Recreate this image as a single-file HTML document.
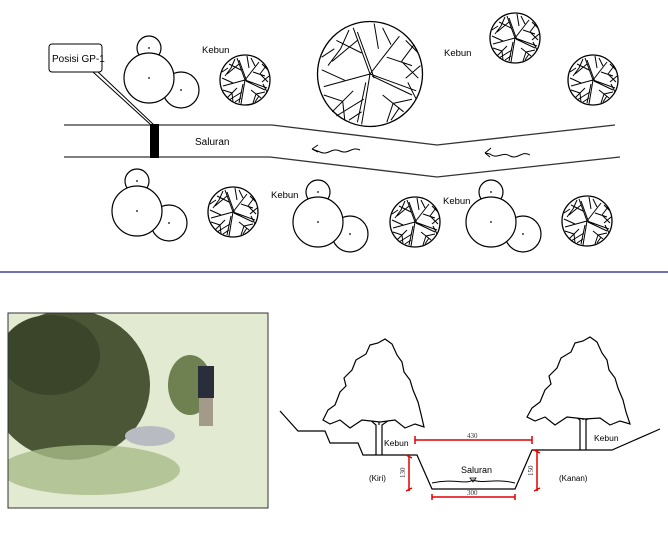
<!DOCTYPE html>
<html><head><meta charset="utf-8"><style>
html,body{margin:0;padding:0;background:#fff;}
svg{display:block;font-family:"Liberation Sans",sans-serif;}
</style></head><body>
<svg width="668" height="560" viewBox="0 0 668 560" xmlns="http://www.w3.org/2000/svg">
<defs>
<clipPath id="pc"><rect x="8" y="313" width="260" height="195"/></clipPath>
<g id="dt"><circle r="25" fill="#fff" stroke="#000" stroke-width="1.3" vector-effect="non-scaling-stroke"/>
<path vector-effect="non-scaling-stroke" d="M0,0 L-8,-22 M0,0 L14,-18 M0,0 L22,8 M0,0 L-4,24 M0,0 L-22,6 M-4,-10 L-16,-16 M8,-8 L20,-4 M6,10 L16,18 M-8,8 L-18,18 M-6,-16 L-18,-6 M10,-14 L6,-22 M2,2 L-6,-20 M1,1 L20,10 M-2,4 L-6,23 M-14,-12 L-20,-4 M-14,-12 L-10,-21 M15,-6 L21,-14 M15,-6 L23,2 M11,14 L20,12 M11,14 L8,23 M-13,13 L-22,10 M-13,13 L-12,22 M-12,3 L-23,-2 M4,-12 L2,-24 M-3,12 L-16,20 M17,2 L24,-4" stroke="#000" stroke-width="1" fill="none"/>
<path vector-effect="non-scaling-stroke" d="M-23,-8 L-17,-12 M17,-16 L23,-10 M-10,22 L-4,18 M10,22 L14,16 M22,12 L18,4" stroke="#000" stroke-width="1"/></g>
<g id="ct"><circle cx="0" cy="-30" r="12" fill="#fff" stroke="#000" stroke-width="1.2"/>
<circle cx="32" cy="12" r="18" fill="#fff" stroke="#000" stroke-width="1.2"/>
<circle cx="0" cy="0" r="25" fill="#fff" stroke="#000" stroke-width="1.2"/>
<circle cx="0" cy="0" r="0.9"/><circle cx="32" cy="12" r="0.9"/><circle cx="0" cy="-30" r="0.9"/></g>
</defs>

<path d="M64,125 L272,125 L437,145 L615,125 M64,157 L270,157 L437,177 L620,157" stroke="#333" stroke-width="1.3" fill="none"/>
<rect x="150" y="124" width="9" height="34" fill="#000"/>
<path d="M93,72 L150,124 M98,72 L153,124" stroke="#000" stroke-width="1"/>
<rect x="49" y="44" width="53" height="28" rx="3" fill="#fff" stroke="#000" stroke-width="1"/>
<text x="52" y="62" font-size="10">Posisi GP-1</text>
<text x="195" y="145" font-size="10">Saluran</text>
<text x="202" y="53" font-size="9.5">Kebun</text>
<text x="444" y="56" font-size="9.5">Kebun</text>
<text x="271" y="198" font-size="9.5">Kebun</text>
<text x="443" y="204" font-size="9.5">Kebun</text>
<path d="M360,150 C352,146 348,155 340,151 C332,147 328,156 320,152 L312,149 M312,149 l6,-4 M312,149 l6,3" stroke="#000" fill="none" stroke-width="1"/>
<path d="M530,155 C522,150 518,160 510,156 C502,151 498,160 490,154 L485,153 M485,153 l6,-5 M485,153 l5,4" stroke="#000" fill="none" stroke-width="1"/>

<use href="#ct" x="149" y="78"/>
<use href="#ct" x="137" y="211"/>
<use href="#ct" x="318" y="222"/>
<use href="#ct" x="491" y="222"/>

<use href="#dt" x="245" y="80"/>
<use href="#dt" x="515" y="38"/>
<use href="#dt" x="593" y="80"/>
<use href="#dt" x="233" y="212"/>
<use href="#dt" x="415" y="222"/>
<use href="#dt" x="587" y="221"/>
<use href="#dt" transform="translate(370,74) scale(2.1)"/>

<line x1="0" y1="272" x2="668" y2="272" stroke="#1a1a8c" stroke-width="1.3"/>

<g clip-path="url(#pc)">
<rect x="8" y="313" width="260" height="195" fill="#e2ead2"/>
<ellipse cx="70" cy="385" rx="80" ry="75" fill="#4a5636"/>
<ellipse cx="50" cy="355" rx="50" ry="40" fill="#3a4529"/>
<ellipse cx="190" cy="385" rx="22" ry="30" fill="#6f8150"/>
<ellipse cx="90" cy="470" rx="90" ry="25" fill="#a9bb88" opacity="0.8"/>
<ellipse cx="150" cy="436" rx="25" ry="10" fill="#b8bcc2"/>
<rect x="198" y="366" width="16" height="32" fill="#2a2e3a"/>
<rect x="199" y="398" width="14" height="28" fill="#a39b8a"/>
</g>
<rect x="8" y="313" width="260" height="195" fill="none" stroke="#333" stroke-width="1"/>

<path d="M280,411 L298,431 L325,431 L330,443 L358,443 L363,455 L417,455 L432,489 L515,489 L532,450 L612,450 L660,429" stroke="#000" stroke-width="1.2" fill="none"/>
<path d="M432,483 C455,478 465,485 473,480 C482,484 495,478 515,483" stroke="#000" fill="none" stroke-width="1"/>
<path d="M470,478 l3,4 l3,-4 z" fill="none" stroke="#000" stroke-width="0.8"/>
<path d="M376,455 L376,425 L368,418 M382,455 L382,425 L392,418 M379,425 L379,416" stroke="#000" fill="none" stroke-width="1.2"/>
<path d="M323,420 L328,410 L335,405 L340,392 L346,386 L344,378 L352,370 L356,360 L366,354 L370,345 L378,343 L385,339 L392,344 L397,355 L402,362 L404,372 L410,380 L413,390 L418,402 L421,414 L424,427 L415,424 L405,428 L395,420 L380,422 L362,420 L350,428 L340,420 L330,424 Z" fill="#fff" stroke="#000" stroke-width="1.2"/>
<path d="M580,450 L580,420 L572,414 M586,450 L586,420 L596,414 M583,420 L583,412" stroke="#000" fill="none" stroke-width="1.2"/>
<path d="M527,417 L532,408 L540,402 L545,390 L551,384 L549,376 L557,368 L561,358 L571,352 L575,343 L583,341 L590,337 L597,342 L602,353 L607,360 L609,370 L615,378 L618,388 L623,400 L626,412 L630,424 L620,421 L610,425 L600,418 L585,419 L567,417 L555,425 L545,417 L535,421 Z" fill="#fff" stroke="#000" stroke-width="1.2"/>

<g stroke="#e00000" stroke-width="1.5" fill="none">
<path d="M415,440 L532,440 M415,436 L415,444 M532,436 L532,444"/>
<path d="M409,455 L409,491 M406,455 L412,458 M406,491 L412,488"/>
<path d="M537,450 L537,491 M534,450 L540,453 M534,491 L540,488"/>
<path d="M432,497 L515,497 M432,494 L432,500 M515,494 L515,500"/>
</g>
<g font-family="Liberation Serif,serif" font-size="7" fill="#333">
<text x="467" y="438">430</text>
<text x="467" y="495">300</text>
<text transform="translate(405,478) rotate(-90)">130</text>
<text transform="translate(533,476) rotate(-90)">150</text>
</g>
<text x="461" y="473" font-size="9">Saluran</text>
<text x="369" y="481" font-size="8">(Kiri)</text>
<text x="559" y="481" font-size="8">(Kanan)</text>
<text x="384" y="446" font-size="8.5">Kebun</text>
<text x="594" y="441" font-size="8.5">Kebun</text>
</svg>
</body></html>
